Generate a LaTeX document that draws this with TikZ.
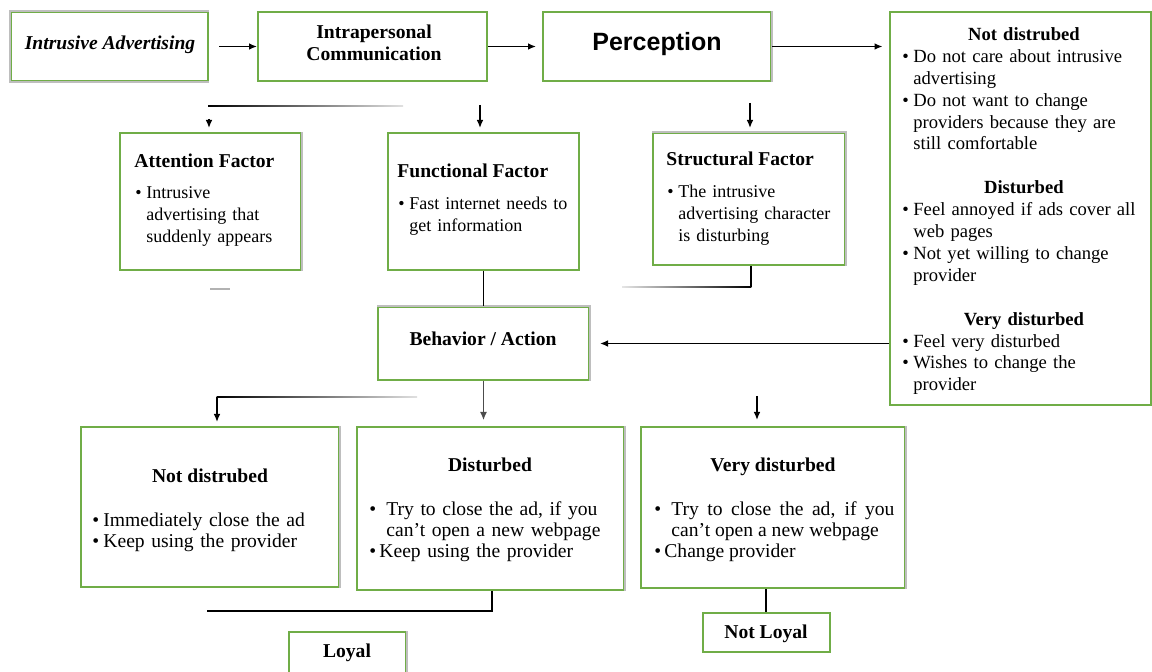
\documentclass[tikz,border=0pt]{standalone}
\usepackage{fontspec}
\setmainfont{Liberation Serif}
\newfontfamily\arialf{Liberation Sans}
\usetikzlibrary{arrows.meta}
\definecolor{boxgreen}{RGB}{112,173,71}
\definecolor{edgegray}{RGB}{190,190,190}
\newcommand{\bul}[2][5.5pt]{\par\hangindent=#1\hangafter=1\noindent\makebox[#1][l]{\textbullet}#2\par}
\newcommand{\gap}{\par\vspace{\baselineskip}}
\begin{document}
\begin{tikzpicture}[x=0.5pt,y=-0.5pt,
  box/.style={draw=boxgreen,line width=1pt,inner sep=0pt},
  sz/.style 2 args={minimum width=#1*0.5pt,minimum height=#2*0.5pt},
  gedge/.style={draw=edgegray,line width=1pt},
  txt/.style={inner sep=0pt,font=\fontsize{9}{10.95}\selectfont},
  head/.style={inner sep=0pt,font=\fontsize{9.8}{11}\selectfont\bfseries},
  blist/.style={txt,anchor=base west,align=left},
  bigtxt/.style={font=\fontsize{9.8}{10.5}\selectfont},
  ln/.style={line width=0.75pt},
  arr/.style={ln,-{Latex[length=4pt,width=3.4pt]}},
]
\useasboundingbox (0,0) rectangle (1152,672);

% boxes
\node[box,sz={197}{69}] (intr) at (109.5,46.5) {};
\node[box,sz={229}{69}] (ipc) at (372.5,46.5) {};
\node[box,sz={228}{69}] (perc) at (657,46.5) {};
\node[box,sz={261}{393}] (rbox) at (1020,208.5) {};
\node[box,sz={181}{137}] (att) at (210.5,201.5) {};
\node[box,sz={191}{137}] (func) at (483.5,201.5) {};
\node[box,sz={192}{132}] (struc) at (749,199) {};
\node[box,sz={211}{73}] (beh) at (483.5,343.5) {};
\node[box,sz={258}{160}] (nd) at (210,507) {};
\node[box,sz={267}{163}] (dist) at (490.5,508.5) {};
\node[box,sz={264}{161}] (vd) at (773,507.5) {};
\node[box,sz={117}{60}] (loyal) at (347.5,662) {};
\node[box,sz={127}{39}] (nloyal) at (766,632.5) {};

% gray edges
\draw[gedge] (intr.south east) -- (intr.south west) -- (intr.north west) -- (intr.north east);
\draw[gedge] (perc.north east) -- (perc.south east);
\draw[gedge] (att.north east) -- (att.south east);
\draw[gedge] (struc.north west) -- (struc.north east) -- (struc.south east);
\draw[gedge] (beh.north west) -- (beh.north east) -- (beh.south east);
\draw[gedge] (nd.north east) -- (nd.south east);
\draw[gedge] (dist.north east) -- (dist.south east);
\draw[gedge] (vd.north east) -- (vd.south east);
\draw[gedge] (loyal.north east) -- (loyal.south east);

% texts
\node[head,anchor=base] (intr-t) at (110,50) {\itshape Intrusive Advertising};
\node[head,anchor=center,align=center] (ipc-t) at (374,43) {Intrapersonal\\Communication};
\node[inner sep=0pt,anchor=base,font={\fontsize{12.5}{14}\selectfont\arialf\bfseries}] (perc-t) at (657,51) {Perception};

\node[blist,text width=121.5pt,font=\fontsize{9.3}{10.95}\selectfont] (rbox-t) at (902,40.5) {%
{\centering\bfseries Not distrubed\par}
\bul{Do not care about intrusive\newline advertising}
\bul{Do not want to change\newline providers because they are\newline still comfortable}
\gap
{\centering\bfseries Disturbed\par}
\bul{Feel annoyed if ads cover all\newline web pages}
\bul{Not yet willing to change\newline provider}
\gap
{\centering\bfseries Very disturbed\par}
\bul{Feel very disturbed}
\bul{Wishes to change the\newline provider}};

\node[head,anchor=base west] (att-h) at (134,168) {Attention Factor};
\node[blist,text width=80pt] (att-b) at (135,177) {\bul{Intrusive\newline advertising that\newline suddenly appears}};
\node[head,anchor=base west] (func-h) at (397,178) {Functional Factor};
\node[blist,text width=90pt] (func-b) at (398,188) {\bul{Fast internet needs to\newline get information}};
\node[head,anchor=base west] (struc-h) at (666,166) {Structural Factor};
\node[blist,text width=90pt] (struc-b) at (667,176) {\bul{The intrusive\newline advertising character\newline is disturbing}};

\node[head,anchor=base] (beh-t) at (483,346) {Behavior / Action};

\node[head,anchor=base] (nd-h) at (210,483) {Not distrubed};
\node[blist,bigtxt,text width=120pt] (nd-b) at (92,506) {\bul{Immediately close the ad}\bul{Keep using the provider}};
\node[head,anchor=base] (dist-h) at (490,472) {Disturbed};
\node[blist,bigtxt,text width=125pt] (dist-b) at (369,495) {\bul[8.5pt]{Try to close the ad, if you\newline can't open a new webpage}\bul[5pt]{Keep using the provider}};
\node[head,anchor=base] (vd-h) at (773,472) {Very disturbed};
\node[blist,bigtxt,text width=120pt,align=justify] (vd-b) at (654,495) {\bul[8.5pt]{Try to close the ad, if you\linebreak can't open a new webpage}\bul[5pt]{Change provider}};

\node[head,anchor=base] (loyal-t) at (347,658) {Loyal};
\node[head,anchor=base] (nloyal-t) at (766,639) {Not Loyal};

% connectors
\draw[arr,shorten <=5pt] (intr) -- (ipc);
\draw[arr,shorten >=3pt] (ipc) -- (perc);
\draw[arr,shorten >=3pt] (perc.east) -- (perc.east -| rbox.west);

\shade[left color=black,right color=black!12] (208,105.2) rectangle (403,106.8);
\coordinate (atop) at (209,119);
\draw[arr,shorten >=2pt] (atop) -- (atop |- att.north);
\coordinate (ftop) at (480,105);
\draw[arr,shorten >=2pt] (ftop) -- (ftop |- func.north);
\coordinate (stop) at (750,103);
\draw[arr,shorten >=2pt] (stop) -- (stop |- struc.north);

\draw[black!30,line width=0.7pt] (210,289) -- (230,289);
\draw[ln] (func.south) -- (func.south |- beh.north);
\coordinate (sc) at (751,287);
\draw[ln] (struc.south -| sc) -- (sc);
\shade[left color=black!10,right color=black] (622,286.2) rectangle (751.4,287.8);

\draw[arr,shorten >=5pt] (beh -| rbox.west) -- (beh.east);
\draw[black!70,line width=0.5pt,-{Latex[length=4pt,width=3.4pt]},shorten >=3pt] (beh.south) -- (beh.south |- dist.north);

\shade[left color=black,right color=black!12] (216.6,396.2) rectangle (417,397.8);
\coordinate (lc) at (217,397);
\draw[arr,shorten >=2pt] (lc) -- (lc |- nd.north);
\coordinate (vtop) at (757,396);
\draw[arr,shorten >=3pt] (vtop) -- (vtop |- vd.north);

\coordinate (dl) at (207,611);
\coordinate (dt) at (492,611);
\draw[ln] (dt |- dist.south) -- (dt) -- (dl);
\draw[ln] (nloyal.north |- vd.south) -- (nloyal.north);
\end{tikzpicture}
\end{document}
